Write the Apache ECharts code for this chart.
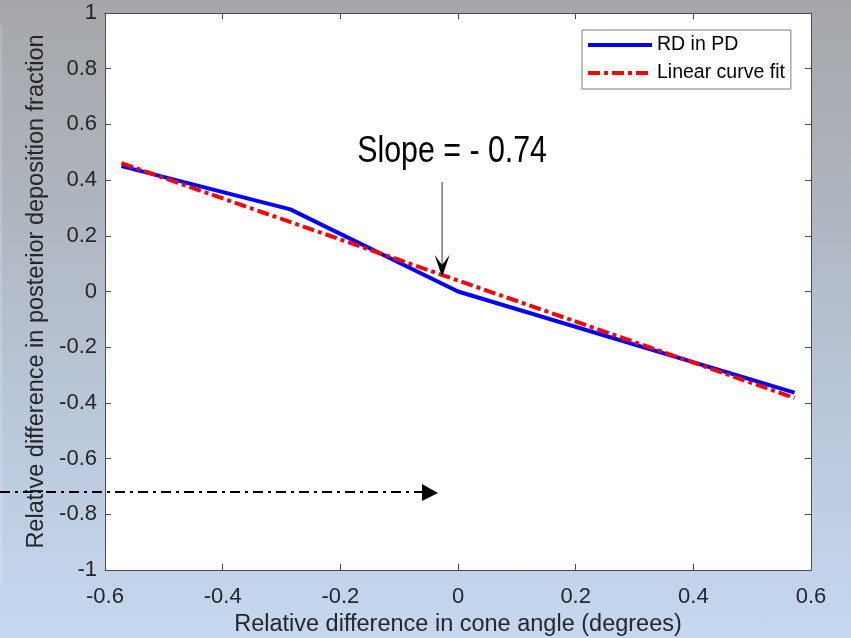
<!DOCTYPE html>
<html>
<head>
<meta charset="utf-8">
<script src="https://cdn.jsdelivr.net/npm/echarts@6/dist/echarts.min.js"></script>
<style>
html,body{margin:0;padding:0;}
#chart{width:851px;height:638px;background:linear-gradient(to bottom,#a5a7aa 0%,#aeb4bd 30%,#b8c5d6 60%,#c5d8f1 100%);}
</style>
</head>
<body>
<div id="chart"></div>
<script>
// Data
const xTitle = 'Relative difference in cone angle (degrees)';
const yTitle = 'Relative difference in posterior deposition fraction';
const rdX = [-0.572, -0.285, 0, 0.572];
const rdY = [0.45, 0.295, 0, -0.363];
const fitX = [-0.572, 0.572];
const fitY = [0.461, -0.382];
const seriesNames = ['RD in PD', 'Linear curve fit'];
const slopeLabel = 'Slope = - 0.74';
// annotation anchors (data coordinates)
const slopeArrowX = -0.027, slopeArrowFrom = 0.393, slopeArrowTo = 0.052;
const slopeTextX = -0.01, slopeTextY = 0.50;
const hArrowY = -0.72, hArrowTipX = -0.034;

const fmt = v => String(Math.round(v * 10) / 10);
const font = '"Liberation Sans", Arial, sans-serif';
const axisCol = '#4d4d4d';
const labCol = '#262626';

const chart = echarts.init(document.getElementById('chart'), null, {renderer: 'canvas'});
const baseAxisLine = {show: true, onZero: false, lineStyle: {color: axisCol, width: 1}};
const baseTick = {show: true, inside: true, length: 6, lineStyle: {color: axisCol, width: 1}};

const solidIcon = 'path://M0,0H64V4H0Z';
const dashIcon = 'path://M0,0H12V4H0Z M16,0H20V4H16Z M24,0H36V4H24Z M40,0H44V4H40Z M48,0H60V4H48Z M64,0H64V4H64Z';

chart.setOption({
  animation: false,
  backgroundColor: 'transparent',
  grid: {left: 105, right: 40, top: 13, bottom: 68, show: true, backgroundColor: '#ffffff', borderWidth: 0,
         containLabel: false, outerBoundsMode: 'none'},
  xAxis: [{
    type: 'value', min: -0.6, max: 0.6, interval: 0.2, position: 'bottom',
    axisLine: baseAxisLine, axisTick: baseTick, splitLine: {show: false},
    axisLabel: {formatter: fmt, color: labCol, fontSize: 22, fontFamily: font, margin: 16},
    name: xTitle, nameLocation: 'middle', nameGap: 43,
    nameTextStyle: {color: labCol, fontSize: 23.5, fontFamily: font}
  }, {
    type: 'value', min: -0.6, max: 0.6, interval: 0.2, position: 'top',
    axisLine: baseAxisLine, axisTick: baseTick, splitLine: {show: false}, axisLabel: {show: false}
  }],
  yAxis: [{
    type: 'value', min: -1, max: 1, interval: 0.2, position: 'left',
    axisLine: baseAxisLine, axisTick: baseTick, splitLine: {show: false},
    axisLabel: {formatter: fmt, color: labCol, fontSize: 22, fontFamily: font, margin: 8},
    name: yTitle, nameLocation: 'middle', nameGap: 55,
    nameTextStyle: {color: labCol, fontSize: 23.5, fontFamily: font}
  }, {
    type: 'value', min: -1, max: 1, interval: 0.2, position: 'right',
    axisLine: baseAxisLine, axisTick: baseTick, splitLine: {show: false}, axisLabel: {show: false}
  }],
  legend: {
    left: 582, top: 30, orient: 'vertical',
    padding: [5, 6, 6, 6], itemGap: 8, itemWidth: 64, itemHeight: 4,
    backgroundColor: '#ffffff', borderColor: '#7f7f7f', borderWidth: 1, borderRadius: 0,
    textStyle: {color: '#000', fontSize: 19.5, fontFamily: font, lineHeight: 20},
    data: [{name: seriesNames[0], icon: solidIcon}, {name: seriesNames[1], icon: dashIcon}]
  },
  series: [{
    name: seriesNames[0], type: 'line', showSymbol: false, symbol: 'none',
    data: rdX.map((x, i) => [x, rdY[i]]),
    lineStyle: {color: '#0000ff', width: 4}, itemStyle: {color: '#0000ff'}, z: 2
  }, {
    name: seriesNames[1], type: 'line', showSymbol: false, symbol: 'none',
    data: fitX.map((x, i) => [x, fitY[i]]),
    lineStyle: {color: '#ff0000', width: 4, type: [12, 4, 4, 4]}, itemStyle: {color: '#ff0000'}, z: 3
  }]
});

const P = (x, y) => chart.convertToPixel({xAxisIndex: 0, yAxisIndex: 0}, [x, y]);
const a0 = P(slopeArrowX, slopeArrowFrom), a1 = P(slopeArrowX, slopeArrowTo);
const tp = P(slopeTextX, slopeTextY);
const hTip = P(hArrowTipX, hArrowY);
const hx = hTip[0], hy = hTip[1];
chart.setOption({
  graphic: [
    {type: 'rect', shape: {x: 0, y: 25, width: 2, height: 558}, style: {fill: 'rgba(255,255,255,0.18)'}, silent: true},
    {type: 'text', x: tp[0], y: tp[1], scaleX: 0.82, z: 10,
     style: {text: slopeLabel, fill: '#000', font: '37px "Liberation Sans", Arial, sans-serif', textAlign: 'center', textVerticalAlign: 'middle'}},
    {type: 'line', z: 10, shape: {x1: a0[0], y1: a0[1], x2: a1[0], y2: a1[1] - 12}, style: {stroke: '#555', lineWidth: 1.2}},
    {type: 'polygon', z: 11, shape: {points: [[a1[0], a1[1]], [a1[0] - 7.5, a1[1] - 22], [a1[0], a1[1] - 12], [a1[0] + 7.5, a1[1] - 22]]}, style: {fill: '#000'}},
    {type: 'line', z: 10, shape: {x1: 0, y1: hy, x2: hx - 15, y2: hy}, style: {stroke: '#000', lineWidth: 2, lineDash: [10, 5, 3, 5]}},
    {type: 'polygon', z: 11, shape: {points: [[hx - 16, hy - 8], [hx, hy + 1], [hx - 16, hy + 9]]}, style: {fill: '#000'}}
  ]
});
</script>
</body>
</html>
